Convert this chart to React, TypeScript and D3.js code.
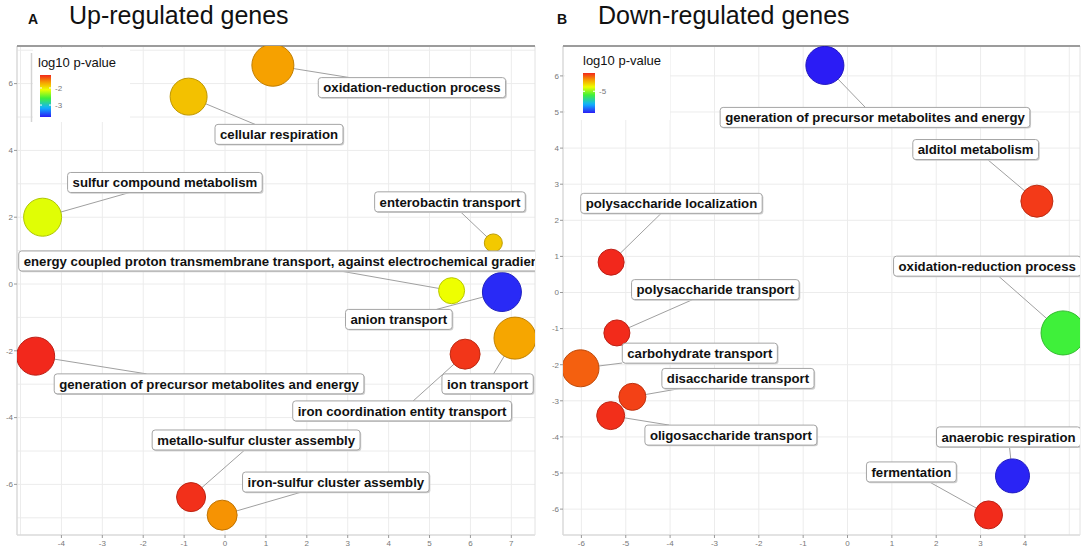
import React from 'react';
import * as d3 from 'd3';

const W = 1084;
const H = 549;

// ---- Panel A: up-regulated genes ----
const upTerms = [
  'oxidation-reduction process',
  'cellular respiration',
  'sulfur compound metabolism',
  'enterobactin transport',
  'energy coupled proton transmembrane transport, against electrochemical gradient',
  'anion transport',
  'ion transport',
  'iron coordination entity transport',
  'generation of precursor metabolites and energy',
  'metallo-sulfur cluster assembly',
  'iron-sulfur cluster assembly',
];
const upX = [1.17, -0.89, -4.46, 6.56, 5.54, 6.77, 7.09, 5.87, -4.63, -0.83, -0.07];
const upY = [6.55, 5.61, 2.0, 1.23, -0.2, -0.24, -1.62, -2.1, -2.16, -6.38, -6.92];
const upLogP = [-1.68, -1.82, -2.14, -1.86, -2.1, -3.65, -1.7, -1.29, -1.24, -1.27, -1.63];
const upLogSize = [3.5, 3.08, 3.17, 1.5, 2.17, 3.25, 3.5, 2.5, 3.17, 2.42, 2.5];
const upLabelX = [4.57, 1.32, -1.47, 5.5, 1.43, 4.25, 6.42, 4.33, -0.39, 0.76, 2.71];
const upLabelY = [5.88, 4.48, 3.04, 2.46, 0.69, -1.06, -2.99, -3.8, -2.99, -4.67, -5.93];
const upXTicks = [-4, -3, -2, -1, 0, 1, 2, 3, 4, 5, 6, 7];
const upYTicks = [-6, -4, -2, 0, 2, 4, 6];
const upPRange = [-3.7, -1.24];
const upLegendTicks = [-2, -3];

// ---- Panel B: down-regulated genes ----
const downTerms = [
  'generation of precursor metabolites and energy',
  'alditol metabolism',
  'polysaccharide localization',
  'oxidation-reduction process',
  'polysaccharide transport',
  'carbohydrate transport',
  'disaccharide transport',
  'oligosaccharide transport',
  'anaerobic respiration',
  'fermentation',
];
const downX = [-0.51, 4.27, -5.33, 4.86, -5.2, -6.02, -4.85, -5.34, 3.72, 3.18];
const downY = [6.29, 2.53, 0.84, -1.12, -1.12, -2.1, -2.89, -3.41, -5.08, -6.16];
const downLogP = [-7.5, -3.02, -2.9, -5.43, -2.92, -3.28, -3.07, -2.95, -7.45, -2.92];
const downLogSize = [3.17, 2.67, 2.17, 3.67, 2.17, 3.08, 2.25, 2.33, 2.83, 2.33];
const downLabelX = [0.62, 2.89, -3.97, 3.15, -2.98, -3.33, -2.47, -2.63, 3.63, 1.44];
const downLabelY = [4.85, 3.96, 2.47, 0.73, 0.08, -1.68, -2.38, -3.95, -4.0, -4.97];
const downXTicks = [-6, -5, -4, -3, -2, -1, 0, 1, 2, 3, 4];
const downYTicks = [-6, -5, -4, -3, -2, -1, 0, 1, 2, 3, 4, 5, 6];
const downPRange = [-7.5, -2.9];
const downLegendTicks = [-5];

const rainbow = ['#2b1cf5', '#10b4ff', '#3ff03a', '#eeff00', '#f6a200', '#f2281c'];
const rainbowStops = [0, 0.22, 0.45, 0.65, 0.82, 1];

const FONT = "'Liberation Sans', Arial, Helvetica, sans-serif";
const LABEL_SIZE = 13.2;

const ctx = typeof document !== 'undefined' ? document.createElement('canvas').getContext('2d') : null;
function textWidth(s: string, font: string) {
  if (!ctx) return s.length * 7;
  ctx.font = font;
  return ctx.measureText(s).width;
}

function makeColor(range: number[]) {
  const [lo, hi] = range;
  return d3
    .scaleLinear<string>()
    .domain(rainbowStops.map((s) => lo + s * (hi - lo)))
    .range(rainbow)
    .interpolate(d3.interpolateRgb)
    .clamp(true);
}

interface PanelProps {
  id: string;
  letter: string;
  title: string;
  titleX: number;
  left: number;
  right: number;
  top: number;
  bottom: number;
  xDomain: number[];
  yDomain: number[];
  xTicks: number[];
  yTicks: number[];
  terms: string[];
  xs: number[];
  ys: number[];
  logP: number[];
  logSize: number[];
  labelX: number[];
  labelY: number[];
  pRange: number[];
  legend: any;
}

function Panel(p: PanelProps) {
  const x = d3.scaleLinear().domain(p.xDomain).range([p.left, p.right]);
  const y = d3.scaleLinear().domain(p.yDomain).range([p.bottom, p.top]);
  const r = d3.scaleLinear().domain([1, 4]).range([6, 24]);
  const color = makeColor(p.pRange);
  const gridX = d3.range(Math.ceil(p.xDomain[0]), Math.floor(p.xDomain[1]) + 1);
  const gridY = d3.range(Math.ceil(p.yDomain[0]), Math.floor(p.yDomain[1]) + 1);

  const font = `bold ${LABEL_SIZE}px ${FONT}`;
  const items = p.terms.map((t, i) => {
    const px = x(p.xs[i]);
    const py = y(p.ys[i]);
    const lx = x(p.labelX[i]);
    const ly = y(p.labelY[i]);
    const hw = textWidth(t, font) / 2 + 5;
    const hh = 10;
    const dx = px - lx;
    const dy = py - ly;
    const s = Math.min(dx === 0 ? Infinity : hw / Math.abs(dx), dy === 0 ? Infinity : hh / Math.abs(dy));
    const seg = s < 1 ? { x1: px, y1: py, x2: lx + dx * s, y2: ly + dy * s } : null;
    return { t, px, py, lx, ly, hw, hh, seg, rad: r(p.logSize[i]), fill: color(p.logP[i]) as string };
  });

  const L = p.legend;
  const barY = d3.scaleLinear().domain(p.pRange).range([L.barY1, L.barY0]);
  const gradStops = d3.range(0, 1.0001, 0.05);

  return (
    <g>
      <defs>
        <clipPath id={`clip-${p.id}`}>
          <rect x={p.left} y={p.top} width={p.right - p.left} height={p.bottom - p.top} />
        </clipPath>
        <linearGradient id={`grad-${p.id}`} x1="0" y1="1" x2="0" y2="0">
          {gradStops.map((s) => (
            <stop key={s} offset={s} stopColor={color(p.pRange[0] + s * (p.pRange[1] - p.pRange[0])) as string} />
          ))}
        </linearGradient>
      </defs>

      {/* title */}
      <text x={p.titleX} y={24} fontSize={14} fontWeight="bold" fill="#111">{p.letter}</text>
      <text x={p.titleX + 41} y={24} fontSize={25} fill="#111">{p.title}</text>

      {/* panel background + grid */}
      <rect x={p.left} y={p.top} width={p.right - p.left} height={p.bottom - p.top} fill="#fff" />
      {gridX.map((v) => (
        <line key={'gx' + v} x1={x(v)} x2={x(v)} y1={p.top} y2={p.bottom} stroke="#ececec" strokeWidth={1} />
      ))}
      {gridY.map((v) => (
        <line key={'gy' + v} x1={p.left} x2={p.right} y1={y(v)} y2={y(v)} stroke="#ececec" strokeWidth={1} />
      ))}

      {/* legend */}
      <rect x={L.bgX0} y={L.bgY0} width={L.bgX1 - L.bgX0} height={L.bgY1 - L.bgY0} fill="#fff" />
      {L.line && <line x1={L.bgX0 - 1.5} x2={L.bgX0 - 1.5} y1={L.bgY0 + 5} y2={L.bgY1} stroke="#d4d4d4" strokeWidth={1.5} />}
      <text x={L.titleX} y={L.titleY} fontSize={13} fill="#111">log10 p-value</text>
      <rect x={L.barX} y={L.barY0} width={L.barW} height={L.barY1 - L.barY0} fill={`url(#grad-${p.id})`} />
      {L.ticks.map((v: number) => (
        <g key={'lt' + v}>
          <line x1={L.barX} x2={L.barX + 2} y1={barY(v)} y2={barY(v)} stroke="#fff" />
          <line x1={L.barX + L.barW - 2} x2={L.barX + L.barW} y1={barY(v)} y2={barY(v)} stroke="#fff" />
          <text x={L.barX + L.barW + 4} y={barY(v)} dy="0.35em" fontSize={8} fill="#777">{v}</text>
        </g>
      ))}

      {/* axes */}
      <line x1={p.left} x2={p.left} y1={p.top} y2={p.bottom} stroke="#dadada" strokeWidth={1.5} />
      <line x1={p.left} x2={p.right} y1={p.bottom} y2={p.bottom} stroke="#dadada" strokeWidth={1.5} />
      <line x1={p.right} x2={p.right} y1={p.top} y2={p.bottom} stroke="#e2e2e2" strokeWidth={1} />
      <line x1={p.left} x2={p.right} y1={p.top} y2={p.top} stroke="#9c9c9c" strokeWidth={2} />
      {p.yTicks.map((v) => (
        <g key={'yt' + v}>
          <line x1={p.left - 3} x2={p.left} y1={y(v)} y2={y(v)} stroke="#999" />
          <text x={p.left - 4} y={y(v)} dy="0.35em" textAnchor="end" fontSize={8} fill="#777">{v}</text>
        </g>
      ))}
      {p.xTicks.map((v) => (
        <g key={'xt' + v}>
          <line x1={x(v)} x2={x(v)} y1={p.bottom} y2={p.bottom + 3} stroke="#999" />
          <text x={x(v)} y={p.bottom + 11} textAnchor="middle" fontSize={8} fill="#777">{v}</text>
        </g>
      ))}

      {/* marks */}
      <g clipPath={`url(#clip-${p.id})`}>
        {items.map((d, i) =>
          d.seg ? (
            <line key={'s' + i} x1={d.seg.x1} y1={d.seg.y1} x2={d.seg.x2} y2={d.seg.y2} stroke="#a0a0a0" strokeWidth={1} />
          ) : null
        )}
        {items.map((d, i) => (
          <circle
            key={'c' + i}
            cx={d.px}
            cy={d.py}
            r={d.rad}
            fill={d.fill}
            stroke={d3.color(d.fill)!.darker(0.7).toString()}
            strokeWidth={1}
          />
        ))}
        {items.map((d, i) => (
          <g key={'l' + i}>
            <rect x={d.lx - d.hw + 1.2} y={d.ly - d.hh + 1.2} width={d.hw * 2} height={d.hh * 2} rx={3} fill="#cfcfcf" />
            <rect x={d.lx - d.hw} y={d.ly - d.hh} width={d.hw * 2} height={d.hh * 2} rx={3} fill="#fff" stroke="#a5a5a5" strokeWidth={1} />
            <text x={d.lx} y={d.ly} dy="0.36em" textAnchor="middle" fontSize={LABEL_SIZE} fontWeight="bold" fill="#111">
              {d.t}
            </text>
          </g>
        ))}
      </g>
    </g>
  );
}

export default function App() {
  return (
    <svg
      width={W}
      height={H}
      style={{ position: 'absolute', left: 0, top: 0, background: '#fff' }}
      fontFamily={FONT}
    >
      <rect width={W} height={H} fill="#fff" />
      <Panel
        id="up"
        letter="A"
        title="Up-regulated genes"
        titleX={28}
        left={17}
        right={535}
        top={46}
        bottom={535}
        xDomain={[-5.086, 7.579]}
        yDomain={[-7.515, 7.126]}
        xTicks={upXTicks}
        yTicks={upYTicks}
        terms={upTerms}
        xs={upX}
        ys={upY}
        logP={upLogP}
        logSize={upLogSize}
        labelX={upLabelX}
        labelY={upLabelY}
        pRange={upPRange}
        legend={{ bgX0: 33, bgX1: 130, bgY0: 48, bgY1: 122, line: true, titleX: 38, titleY: 67, barX: 40, barW: 11, barY0: 75, barY1: 117, ticks: upLegendTicks }}
      />
      <Panel
        id="down"
        letter="B"
        title="Down-regulated genes"
        titleX={557}
        left={563}
        right={1080}
        top={46}
        bottom={535}
        xDomain={[-6.415, 5.242]}
        yDomain={[-6.717, 6.828]}
        xTicks={downXTicks}
        yTicks={downYTicks}
        terms={downTerms}
        xs={downX}
        ys={downY}
        logP={downLogP}
        logSize={downLogSize}
        labelX={downLabelX}
        labelY={downLabelY}
        pRange={downPRange}
        legend={{ bgX0: 565, bgX1: 670, bgY0: 47, bgY1: 120, line: false, titleX: 583, titleY: 65, barX: 583, barW: 12, barY0: 73, barY1: 113, ticks: downLegendTicks }}
      />
    </svg>
  );
}
